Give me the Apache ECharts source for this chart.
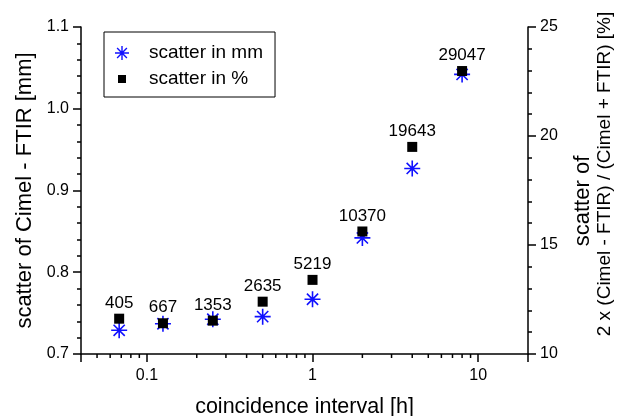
<!DOCTYPE html>
<html>
<head>
<meta charset="utf-8">
<script src="https://cdn.jsdelivr.net/npm/echarts@6/dist/echarts.min.js"></script>
<style>html,body{margin:0;padding:0;background:#fff}#c{width:626px;height:416px}</style>
</head>
<body>
<div id="c"></div>
<script>
// coincidence interval [h]
var intervals = [0.068, 0.125, 0.25, 0.5, 1, 2, 4, 8];
// scatter of Cimel - FTIR [mm]
var scatterMm = [0.729, 0.737, 0.7425, 0.7457, 0.767, 0.842, 0.927, 1.042];
// scatter in %
var scatterPct = [11.62, 11.41, 11.53, 12.4, 13.4, 15.62, 19.5, 22.98];
// number of coincidences
var counts = [405, 667, 1353, 2635, 5219, 10370, 19643, 29047];
var xTickLabels = ['0.1', '1', '10'];

var FONT = "'Liberation Sans', Arial, sans-serif";
var ASTERISK = 'path://M45 0L55 0L55 100L45 100Z M0 45L100 45L100 55L0 55Z M18.5 11.5L88.5 81.5L81.5 88.5L11.5 18.5Z M88.5 18.5L18.5 88.5L11.5 81.5L81.5 11.5Z';
var SQUARE_ICON = 'path://M-37 -37L-37 -37 M0 0L100 0L100 100L0 100Z M137 137L137 137';

var xMin = 0.04, xMax = 20;
var minorX = [];
for (var e = -2; e <= 1; e++) {
  for (var m = 2; m <= 9; m++) {
    var v = m * Math.pow(10, e);
    if (v > xMin * 1.0001 && v < xMax * 0.9999) minorX.push(v);
  }
}

var chart = echarts.init(document.getElementById('c'), null, {renderer: 'canvas'});
var axisLine = {show: true, lineStyle: {color: '#000', width: 1.5}};
chart.setOption({
  animation: false,
  backgroundColor: '#fff',
  textStyle: {fontFamily: FONT},
  grid: {left: 81, right: 98, top: 27, bottom: 62, containLabel: false, outerBoundsMode: 'none'},
  legend: {
    orient: 'vertical', left: 104, top: 32,
    padding: [11, 12, 8, 11],
    borderColor: '#000', borderWidth: 1,
    itemWidth: 14, itemHeight: 14, itemGap: 6,
    textStyle: {fontFamily: FONT, fontSize: 19, color: '#000', lineHeight: 20, padding: [0, 0, 0, 15]},
    data: [
      {name: 'scatter in mm'},
      {name: 'scatter in %', icon: SQUARE_ICON}
    ]
  },
  xAxis: {
    type: 'log', logBase: 10, min: xMin, max: xMax,
    name: 'coincidence interval [h]', nameLocation: 'middle', nameGap: 42,
    nameTextStyle: {fontFamily: FONT, fontSize: 21.5, color: '#000'},
    axisLine: axisLine,
    axisTick: {show: true, inside: false, length: 8, lineStyle: {color: '#000', width: 1.5}},
    axisLabel: {
      fontFamily: FONT, fontSize: 16, color: '#000', margin: 14,
      formatter: function (val) {
        for (var i = 0; i < xTickLabels.length; i++) {
          if (Math.abs(val - parseFloat(xTickLabels[i])) < 1e-9 * parseFloat(xTickLabels[i])) return xTickLabels[i];
        }
        return '';
      }
    },
    splitLine: {show: false}
  },
  yAxis: [{
    type: 'value', position: 'left', min: 0.7, max: 1.1, interval: 0.1,
    name: 'scatter of Cimel - FTIR [mm]', nameLocation: 'middle', nameGap: 45, nameRotate: 90,
    nameTextStyle: {fontFamily: FONT, fontSize: 22, color: '#000'},
    axisLine: axisLine,
    axisTick: {show: true, inside: false, length: 8, lineStyle: {color: '#000', width: 1.5}},
    minorTick: {show: true, splitNumber: 5, length: 4, lineStyle: {color: '#000', width: 1.5}},
    axisLabel: {fontFamily: FONT, fontSize: 16, color: '#000', margin: 12, formatter: function (v) { return v.toFixed(1); }},
    splitLine: {show: false}
  }, {
    type: 'value', position: 'right', min: 10, max: 25, interval: 5,
    name: '{a|scatter of}\n{b|2 x (Cimel - FTIR) / (Cimel + FTIR) [%]}',
    nameLocation: 'middle', nameGap: 43, nameRotate: 90,
    nameTextStyle: {
      fontFamily: FONT, color: '#000', align: 'center',
      rich: {
        a: {fontFamily: FONT, fontSize: 22, lineHeight: 24, color: '#000', padding: [0, 21, 0, 0]},
        b: {fontFamily: FONT, fontSize: 19, lineHeight: 20, color: '#000', padding: [0, 0, 0, 33]}
      }
    },
    axisLine: axisLine,
    axisTick: {show: true, inside: false, length: 8, lineStyle: {color: '#000', width: 1.5}},
    minorTick: {show: true, splitNumber: 5, length: 4, lineStyle: {color: '#000', width: 1.5}},
    axisLabel: {fontFamily: FONT, fontSize: 16, color: '#000', margin: 12},
    splitLine: {show: false}
  }],
  series: [{
    name: 'scatter in mm', type: 'scatter', yAxisIndex: 0,
    symbol: ASTERISK, symbolSize: 16,
    itemStyle: {color: '#1010ff', opacity: 1},
    data: intervals.map(function (x, i) { return [x, scatterMm[i]]; }),
    z: 3
  }, {
    name: 'scatter in %', type: 'scatter', yAxisIndex: 1,
    symbol: 'rect', symbolSize: 10,
    itemStyle: {color: '#000', opacity: 1},
    label: {
      show: true, position: 'top', distance: 2,
      fontFamily: FONT, fontSize: 17, color: '#000',
      formatter: function (p) { return String(counts[p.dataIndex]); }
    },
    data: intervals.map(function (x, i) { return [x, scatterPct[i]]; }),
    z: 4
  }, {
    name: 'minor x ticks', type: 'custom', yAxisIndex: 0, silent: true, clip: false,
    data: minorX.map(function (v) { return [v, 0.7]; }),
    renderItem: function (params, api) {
      var p = api.coord([api.value(0), 0.7]);
      return {type: 'line', shape: {x1: p[0], y1: p[1], x2: p[0], y2: p[1] + 4},
        style: {stroke: '#000', lineWidth: 1.5}};
    },
    z: 2
  }]
});
</script>
</body>
</html>
